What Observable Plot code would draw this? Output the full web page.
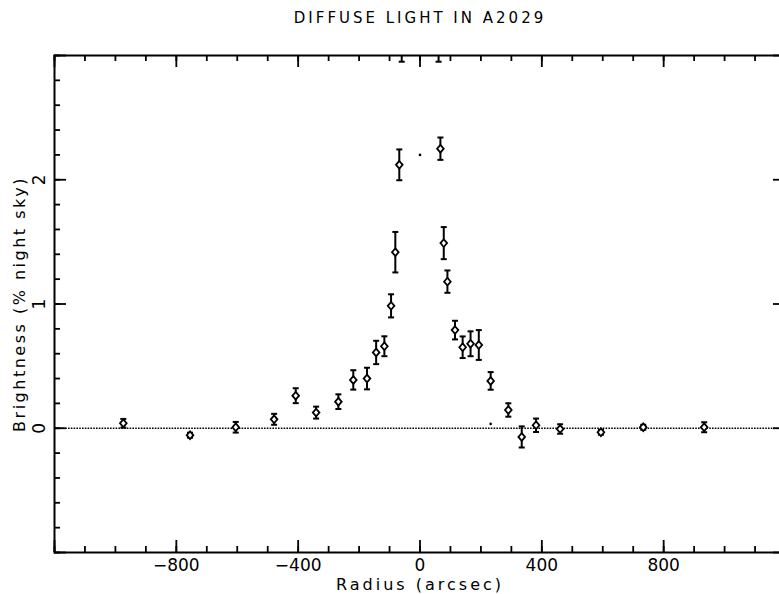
<!DOCTYPE html>
<html><head><meta charset="utf-8">
<script src="https://cdn.jsdelivr.net/npm/d3@7"></script>
<script src="https://cdn.jsdelivr.net/npm/@observablehq/plot@0.6"></script>
<style>
html,body{margin:0;padding:0;background:#fff;overflow:hidden;}
#chart svg{display:block;overflow:hidden;}
</style></head><body><div id="chart"></div>
<script>
const title = "DIFFUSE LIGHT IN A2029";
const xLabel = "Radius (arcsec)";
const yLabel = "Brightness (% night sky)";

// measured points (radius in arcsec, brightness in % night sky, 1-sigma error)
const radius     = [-974, -755, -605, -479, -408, -341, -268, -219, -174, -144, -117, -95, -81, -68, -60, 61, 67, 78, 90, 115, 140, 166, 193, 232, 290, 334, 381, 460, 594, 733, 933];
const brightness = [0.04, -0.056, 0.008, 0.072, 0.262, 0.126, 0.214, 0.389, 0.40, 0.61, 0.66, 0.985, 1.417, 2.12, 3.25, 3.25, 2.25, 1.49, 1.18, 0.79, 0.652, 0.68, 0.67, 0.381, 0.147, -0.07, 0.024, -0.006, -0.032, 0.008, 0.008];
const errors     = [0.035, 0.02, 0.043, 0.044, 0.06, 0.048, 0.059, 0.078, 0.087, 0.094, 0.08, 0.093, 0.163, 0.124, 0.3, 0.3, 0.09, 0.129, 0.09, 0.075, 0.087, 0.1, 0.12, 0.071, 0.054, 0.085, 0.054, 0.038, 0.02, 0.02, 0.04];

// isolated small dots
const dotRadius = [0, 232];
const dotBrightness = [2.2, 0.035];

// ticks
const xMajor = [-1200, -800, -400, 0, 400, 800, 1200];
const xMinor = d3.range(-1200, 1201, 100);
const yMajor = [-1, 0, 1, 2, 3];
const yMinor = d3.range(-1, 3.01, 0.2).map(v => +v.toFixed(1));
const xTickLabels = [-800, -400, 0, 400, 800];
const yTickLabels = [0, 1, 2];

const W = 779, H = 594, mL = 54, mR = -6, mT = 55, mB = 42;
const fw = W - mL - mR, fh = H - mT - mB;
const majorLen = 12, minorLen = 6;

const pts = radius.map((x, i) => ({x, y: brightness[i], e: errors[i]}));
const dots = dotRadius.map((x, i) => ({x, y: dotBrightness[i]}));

const hbar = {draw(ctx, size) { const r = Math.sqrt(size / Math.PI); ctx.moveTo(-r, 0); ctx.lineTo(r, 0); }};
const diamond = {draw(ctx, size) {
  const r = Math.sqrt(size / Math.PI);
  ctx.moveTo(0, -r * 1.1); ctx.lineTo(r * 0.95, 0); ctx.lineTo(0, r * 1.1); ctx.lineTo(-r * 0.95, 0); ctx.closePath();
}};
const fmt = d => d < 0 ? "\u2212" + Math.abs(d) : String(d);
const tickStyle = {stroke: "#000", strokeWidth: 1.8};

const chart = Plot.plot({
  width: W, height: H,
  marginLeft: mL, marginRight: mR, marginTop: mT, marginBottom: mB,
  x: {domain: [-1200, 1200], axis: null},
  y: {domain: [-1, 3], axis: null},
  style: {fontFamily: "DejaVu Sans, sans-serif", background: "#fff", color: "#000"},
  marks: [
    Plot.ruleY([0], {stroke: "#000", strokeWidth: 1.3, strokeDasharray: "1.6,1.2"}),
    // bottom & top ticks
    Plot.ruleX(xMinor, {x: d => d, insetTop: fh - minorLen, ...tickStyle}),
    Plot.ruleX(xMinor, {x: d => d, insetBottom: fh - minorLen, ...tickStyle}),
    Plot.ruleX(xMajor, {x: d => d, insetTop: fh - majorLen, ...tickStyle}),
    Plot.ruleX(xMajor, {x: d => d, insetBottom: fh - majorLen, ...tickStyle}),
    // left & right ticks
    Plot.ruleY(yMinor, {y: d => d, insetRight: fw - minorLen, ...tickStyle}),
    Plot.ruleY(yMinor, {y: d => d, insetLeft: fw - minorLen, ...tickStyle}),
    Plot.ruleY(yMajor, {y: d => d, insetRight: fw - majorLen, ...tickStyle}),
    Plot.ruleY(yMajor, {y: d => d, insetLeft: fw - majorLen, ...tickStyle}),
    Plot.frame({stroke: "#000", strokeWidth: 2}),
    // error bars
    Plot.ruleX(pts, {x: "x", y1: d => d.y - d.e, y2: d => d.y + d.e, stroke: "#000", strokeWidth: 2, clip: true}),
    Plot.dot(pts, {x: "x", y: d => d.y - d.e, symbol: hbar, r: 3, stroke: "#000", strokeWidth: 2, clip: true}),
    Plot.dot(pts, {x: "x", y: d => d.y + d.e, symbol: hbar, r: 3, stroke: "#000", strokeWidth: 2, clip: true}),
    Plot.dot(pts, {x: "x", y: "y", symbol: diamond, r: 3.5, fill: "#fff", stroke: "#000", strokeWidth: 1.8, clip: true}),
    Plot.dot(dots, {x: "x", y: "y", r: 1.3, fill: "#000", stroke: "none"}),
    // tick labels
    Plot.text(xTickLabels, {x: d => d, text: fmt, frameAnchor: "bottom", dy: 6, lineAnchor: "top", fontSize: 17, fill: "#000"}),
    Plot.text(yTickLabels, {y: d => d, text: fmt, frameAnchor: "left", dx: -15, rotate: -90, textAnchor: "middle", lineAnchor: "middle", fontSize: 17, fill: "#000"}),
    // axis labels and title
    Plot.text([xLabel], {frameAnchor: "bottom", dy: 32, lineAnchor: "middle", fontSize: 16, fill: "#000"}),
    Plot.text([yLabel], {frameAnchor: "left", dx: -35, rotate: -90, textAnchor: "middle", lineAnchor: "middle", fontSize: 16, fill: "#000"}),
    Plot.text([title], {frameAnchor: "top", dy: -37, lineAnchor: "middle", fontSize: 15, fill: "#000"})
  ]
});
document.getElementById("chart").appendChild(chart);
d3.select(chart).selectAll("text").each(function() {
  const t = this.textContent;
  if (t === title) this.style.letterSpacing = "3px";
  else if (t === xLabel) this.style.letterSpacing = "3px";
  else if (t === yLabel) this.style.letterSpacing = "2.5px";
});
</script>
</body></html>
